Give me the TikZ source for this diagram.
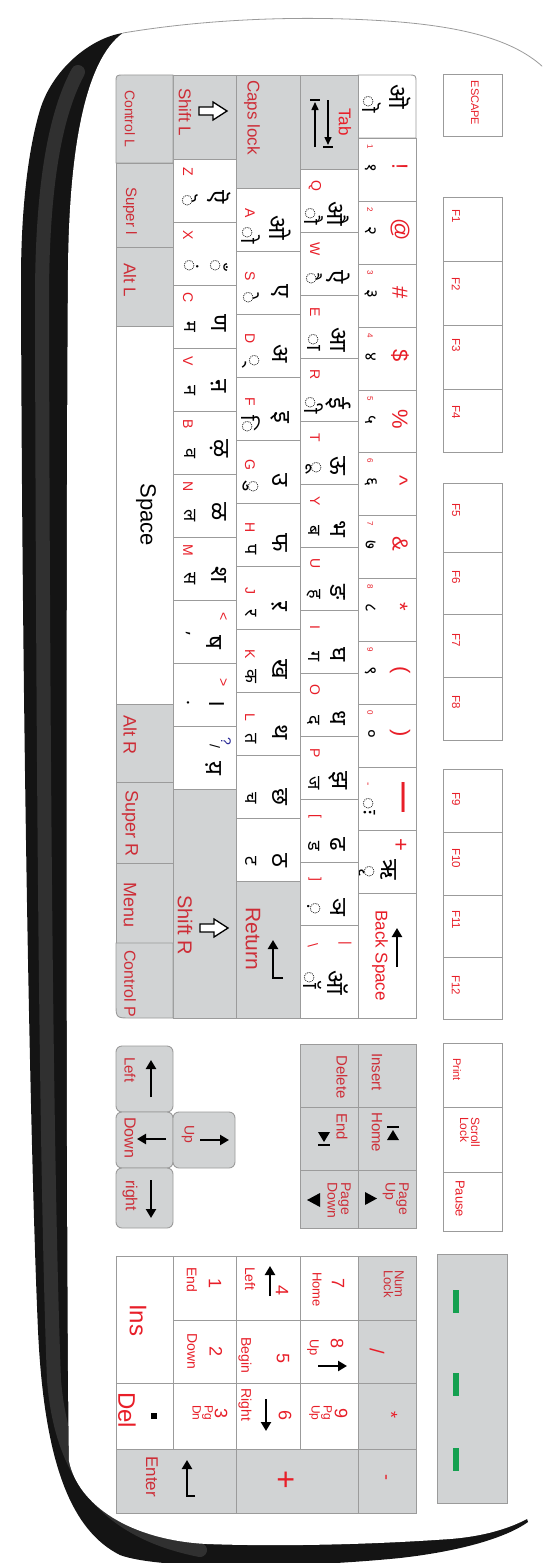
\documentclass[tikz,border=0pt]{standalone}
\usepackage{fontspec}
\setmainfont{Liberation Sans}
\newfontfamily\dev[Script=Devanagari]{Noto Sans}
\usetikzlibrary{arrows.meta}
\definecolor{kred}{RGB}{232,30,40}
\definecolor{mred}{RGB}{205,45,55}
\definecolor{kgray}{RGB}{209,211,212}
\definecolor{kline}{RGB}{155,155,155}
\definecolor{navy}{RGB}{40,40,150}
\definecolor{ledgreen}{RGB}{20,160,80}
\newcommand\fs[1]{\fontsize{#1}{#1}\selectfont}
\newcommand\mk[1]{{\fs{21}◌#1}}
\newcommand\NK[5]{\draw[key] (358,#1) rectangle (416,#1+63);
 \node[sym] (#2a) at (400,#1+29) {#3};
 \node[dig] (#2b) at (370,#1+9) {#4};
 \node[dvd] (#2c) at (371,#1+30) {#5};}
\newcommand\RB[5]{\draw[key] (300,#1) rectangle (358,#1+63);
 \node[lat] (#2l) at (315,#1+17) {#3};
 \node[dvs] (#2s) at (314,#1+47) {#4};
 \node[dvb] (#2b) at (338,#1+45) {#5};}
\newcommand\RC[5]{\draw[key] (236,#1) rectangle (300,#1+63);
 \node[lat] (#2l) at (250,#1+25) {#3};
 \node[dvs] (#2s) at (251,#1+47) {#4};
 \node[dvb] (#2b) at (280,#1+40) {#5};}
\newcommand\RCn[4]{\draw[key] (236,#1) rectangle (300,#1+63);
 \node[dvs] (#2s) at (251,#1+43) {#3};
 \node[dvb] (#2b) at (280,#1+42) {#4};}
\newcommand\RD[5]{\draw[key] (173,#1) rectangle (236,#1+63);
 \node[lat] (#2l) at (188,#1+13) {#3};
 \node[dvs] (#2s) at (190,#1+42) {#4};
 \node[dvb] (#2b) at (219,#1+38) {#5};}
\newcommand\hollowarrow[2]{\draw[line width=1.3pt, fill=white, line join=miter] (#1,#2-4) -- (#1+14,#2-4) -- (#1+14,#2-9) -- (#1+28,#2) -- (#1+14,#2+9) -- (#1+14,#2+4) -- (#1,#2+4) -- cycle;}
\begin{document}
\begin{tikzpicture}[x=1pt,y=-1pt,
 key/.style={draw=kline, line width=0.9pt, fill=white},
 gkey/.style={key, fill=kgray},
 tx/.style={inner sep=0pt, rotate=-90},
 sym/.style={tx, text=kred, font=\fs{22}},
 dig/.style={tx, text=kred, font=\fs{8}},
 dvd/.style={tx, font=\dev\fs{17}},
 lat/.style={tx, text=kred, font=\fs{14}},
 dvs/.style={tx, font=\dev\fs{18}},
 dvb/.style={tx, font=\dev\fs{24}},
 mod/.style={tx, text=mred, anchor=west},
 fk/.style={tx, text=kred, anchor=west, font=\fs{11.5}},
 arr/.style={line width=2.2pt, line join=miter, -{Triangle[length=9pt,width=10pt]}},
 thinarr/.style={line width=1.5pt, -{Triangle[length=8pt,width=7pt]}}]
\useasboundingbox (0,0) rectangle (542,1563);
\clip (0,0) rectangle (542,1563);
% ---------- body ----------
\fill[black!92] (123,33) .. controls (90,38) and (52,70) .. (40,110) .. controls (28,150) and (21,210) .. (21,280) .. controls (22,700) and (30,1150) .. (38,1330) .. controls (44,1460) and (70,1530) .. (120,1555) .. controls (160,1570) and (300,1568) .. (400,1558) .. controls (470,1550) and (510,1535) .. (528,1522) -- (300,800) -- cycle;
\draw[black!55, line width=14pt, opacity=0.3, line cap=round] (78,72) .. controls (52,120) and (42,200) .. (42,300) .. controls (43,800) and (47,1200) .. (54,1380) .. controls (62,1480) and (110,1532) .. (200,1550);
\fill[white] (123,33) .. controls (200,20) and (300,14) .. (400,22) .. controls (470,28) and (520,42) .. (548,72) -- (548,1505) .. controls (530,1520) and (500,1535) .. (450,1539) .. controls (350,1546) and (260,1546) .. (207,1544) .. controls (130,1540) and (78,1505) .. (69,1461) .. controls (66,1300) and (66,500) .. (68,270) .. controls (69,150) and (85,60) .. (123,33) -- cycle;
\draw[kline, line width=0.8pt] (123,33) .. controls (200,20) and (300,14) .. (400,22) .. controls (470,28) and (520,42) .. (548,72);
% ---------- function row ----------
\draw[key] (443,74) rectangle (502,136);
\node[tx, text=kred, font=\fs{11}] (esc) at (475,103) {ESCAPE};
\draw[key] (443,197) rectangle (502,261); \node[fk] (f1) at (456,209) {F1};
\draw[key] (443,261) rectangle (502,325); \node[fk] (f2) at (456,277) {F2};
\draw[key] (443,325) rectangle (502,389); \node[fk] (f3) at (456,338) {F3};
\draw[key] (443,389) rectangle (502,452); \node[fk] (f4) at (456,405) {F4};
\draw[key] (443,483) rectangle (502,552); \node[fk] (f5) at (456,503) {F5};
\draw[key] (443,552) rectangle (502,614); \node[fk] (f6) at (456,570) {F6};
\draw[key] (443,614) rectangle (502,677); \node[fk] (f7) at (456,633) {F7};
\draw[key] (443,677) rectangle (502,740); \node[fk] (f8) at (456,695) {F8};
\draw[key] (443,769) rectangle (502,832); \node[fk] (f9) at (456,792) {F9};
\draw[key] (443,832) rectangle (502,895); \node[fk] (f10) at (456,848) {F10};
\draw[key] (443,895) rectangle (502,957); \node[fk] (f11) at (456,910) {F11};
\draw[key] (443,957) rectangle (502,1019); \node[fk] (f12) at (456,975) {F12};
\draw[key] (443,1043) rectangle (502,1107); \node[fk, font=\fs{11}] (prt) at (457,1058) {Print};
\draw[key] (443,1107) rectangle (502,1172);
\node[tx, text=kred, anchor=north west, align=left, font=\fontsize{12}{11}\selectfont] (scr) at (480,1117) {Scroll\\Lock};
\draw[key] (443,1172) rectangle (502,1231); \node[fk, font=\fs{13}] (pau) at (460,1180) {Pause};
% ---------- row 1 ----------
\draw[key] (358,75) -- (408,75) .. controls (416,75) .. (416,83) -- (416,138) -- (358,138) -- cycle;
\node[dvs] (k0s) at (372,104) {\mk{ॊ}};
\node[dvb] (k0b) at (400,97) {ऒ};
\NK{138}{n1}{!}{1}{१}
\NK{201}{n2}{@}{2}{२}
\NK{264}{n3}{\#}{3}{३}
\NK{327}{n4}{\$}{4}{४}
\NK{390}{n5}{\%}{5}{५}
\NK{452}{n6}{\textasciicircum}{6}{६}
\NK{515}{n7}{\&}{7}{७}
\NK{578}{n8}{*}{8}{८}
\NK{641}{n9}{(}{9}{९}
\NK{704}{n0}{)}{0}{०}
\draw[key] (358,767) rectangle (416,830);
\node[tx, text=kred, font=\fs{30}\bfseries] (mia) at (400,797) {—};
\node[tx, text=kred, font=\fs{10}] (mib) at (367,784) {-};
\node[dvs] (mic) at (369,806) {\mk{ः}};
\draw[key] (358,830) rectangle (416,893);
\node[sym] (pla) at (400,845) {+};
\node[dvs] (plb) at (367,872) {\mk{ृ}};
\node[dvb] (plc) at (389,870) {ऋ};
\draw[key] (358,893) rectangle (416,1018);
\node[mod, text=kred, font=\fs{17}] (bsp) at (380,910) {Back Space};
\draw[arr] (397,967) -- (397,928);
% ---------- row 2 ----------
\draw[gkey] (300,75) rectangle (358,169);
\node[tx, text=kred, font=\fs{17}] (tab) at (345,122) {Tab};
\draw[thinarr] (315,147) -- (315,102);
\draw[line width=1.3pt] (310,100) -- (320,100);
\draw[thinarr] (328,100) -- (328,145);
\draw[line width=1.3pt] (323,147) -- (333,147);
\RB{169}{q}{Q}{\mk{ौ}}{औ}
\RB{232}{w}{W}{\mk{ै}}{ऐ}
\RB{295}{e}{E}{\mk{ा}}{आ}
\RB{358}{r}{R}{\mk{ी}}{ई}
\RB{421}{t}{T}{\mk{ू}}{ऊ}
\RB{484}{y}{Y}{ब}{भ}
\RB{547}{u}{U}{ह}{ङ}
\RB{610}{i}{I}{ग}{घ}
\RB{673}{o}{O}{द}{ध}
\RB{736}{p}{P}{ज}{झ}
\RB{799}{lb}{[}{ड}{ढ}
\RB{862}{rb}{]}{\mk{़}}{ञ}
\draw[key] (300,925) rectangle (358,1018);
\node[lat] (bsa) at (345,943) {|};
\node[lat] (bsb) at (313,945) {\textbackslash};
\node[dvs] (bsc) at (313,980) {\mk{ॉ}};
\node[dvb] (bsd) at (338,983) {ऑ};
% ---------- row 3 ----------
\draw[gkey] (236,75) rectangle (300,188);
\node[mod, font=\fs{17}] (caps) at (252,80) {Caps lock};
\RC{188}{a}{A}{\mk{ो}}{ओ}
\RC{251}{s}{S}{\mk{े}}{ए}
\RC{314}{d}{D}{\mk{्}}{अ}
\RC{377}{f}{F}{\mk{ि}}{इ}
\RC{440}{g}{G}{\mk{ु}}{उ}
\RC{503}{h}{H}{प}{फ}
\RC{566}{j}{J}{र}{ऱ}
\RC{629}{k}{K}{क}{ख}
\RC{692}{l}{L}{त}{थ}
\RCn{755}{semi}{च}{छ}
\RCn{818}{quo}{ट}{ठ}
\draw[gkey] (236,881) rectangle (300,1018);
\node[mod, font=\fs{21}] (ret) at (253,907) {Return};
\draw[arr] (283,978) -- (273,978) -- (273,940);
% ---------- row 4 ----------
\draw[gkey] (173,75) rectangle (236,159);
\node[mod, font=\fs{17}] (shl) at (185,88) {Shift L};
\hollowarrow{199}{111}
\RD{159}{z}{Z}{\mk{ॆ}}{ऎ}
\draw[key] (173,222) rectangle (236,285);
\node[lat] (xl) at (188,235) {X};
\node[dvs] (xs) at (191,266) {\mk{ं}};
\node[dvs] (xb) at (219,266) {\mk{ँ}};
\RD{285}{c}{C}{म}{ण}
\RD{348}{v}{V}{न}{ऩ}
\RD{411}{b}{B}{व}{ऴ}
\RD{474}{nn}{N}{ल}{ळ}
\RD{537}{m}{M}{स}{श}
\draw[key] (173,600) rectangle (236,663);
\node[lat] (cma) at (223,617) {<};
\node[dvs] (cmb) at (188,634) {,};
\node[dvb] (cmc) at (214,642) {ष};
\draw[key] (173,663) rectangle (236,726);
\node[lat] (dta) at (223,683) {>};
\node[dvs] (dtb) at (188,703) {.};
\node[dvb] (dtc) at (217,703) {।};
\draw[key] (173,726) rectangle (236,789);
\node[tx, text=navy, font=\fs{14}] (sla) at (226,741) {?};
\node[tx, font=\fs{14}] (slb) at (215,746) {/};
\node[dvb] (slc) at (214,768) {य़};
\draw[gkey] (173,789) rectangle (236,1018);
\node[mod, font=\fs{20}] (shr) at (185,895) {Shift R};
\hollowarrow{200}{928}
% ---------- row 5 ----------
\draw[gkey] (116,163) -- (116,83) .. controls (116,75) .. (124,75) -- (173,75) -- (173,163) -- cycle;
\node[mod, font=\fs{14}] (ctl) at (130,90) {Control L};
\draw[gkey] (116,163) rectangle (173,247);
\node[mod, font=\fs{15}] (sul) at (130,187) {Super l};
\draw[gkey] (116,247) rectangle (173,326);
\node[mod, font=\fs{17}] (all) at (130,263) {Alt L};
\draw[key] (116,326) rectangle (173,704);
\node[tx, font=\fs{22}] (spc) at (146,515) {Space};
\draw[gkey] (116,704) rectangle (173,782);
\node[mod, font=\fs{18}] (alr) at (130,715) {Alt R};
\draw[gkey] (116,782) rectangle (173,863);
\node[mod, font=\fs{18}] (sur) at (130,790) {Super R};
\draw[gkey] (116,863) rectangle (173,943);
\node[mod, font=\fs{18}] (men) at (130,882) {Menu};
\draw[gkey] (116,943) -- (173,943) -- (173,1018) -- (131,1018) .. controls (116,1018) .. (116,1003) -- cycle;
\node[mod, font=\fs{16}] (ctr) at (130,950) {Control P};
% ---------- editing block ----------
\draw[gkey] (358,1044) rectangle (416,1107);
\node[mod, font=\fs{15}] (ins) at (377,1053) {Insert};
\draw[gkey] (358,1107) rectangle (416,1170);
\node[mod, font=\fs{15}] (hom) at (377,1112) {Home};
\fill (387,1140) -- (399,1140) -- (393,1130) -- cycle;
\draw[line width=1.2pt] (387,1127) -- (399,1127);
\draw[gkey] (358,1170) rectangle (416,1228);
\node[tx, text=mred, anchor=north west, align=left, font=\fontsize{14}{12}\selectfont] (pgu) at (409,1182) {Page\\Up};
\fill (365,1192) -- (365,1205) -- (377,1198.5) -- cycle;
\draw[gkey] (300,1044) rectangle (358,1107);
\node[mod, font=\fs{15}] (del) at (342,1055) {Delete};
\draw[gkey] (300,1107) rectangle (358,1170);
\node[mod, font=\fs{15}] (end) at (342,1113) {End};
\fill (318,1132) -- (330,1132) -- (324,1142) -- cycle;
\draw[line width=1.2pt] (318,1145) -- (330,1145);
\draw[gkey] (300,1170) rectangle (358,1228);
\node[tx, text=mred, anchor=north west, align=left, font=\fontsize{14}{12}\selectfont] (pgd) at (351,1182) {Page\\Down};
\fill (320,1193) -- (320,1207) -- (307,1200) -- cycle;
% ---------- arrow keys ----------
\draw[gkey, rounded corners=6pt] (116,1046) rectangle (173,1112);
\node[mod, font=\fs{15}] (lft) at (130,1057) {Left};
\draw[arr] (151,1097) -- (151,1060);
\draw[gkey, rounded corners=6pt] (116,1112) rectangle (173,1168);
\node[mod, font=\fs{16}] (dwn) at (130,1117) {Down};
\draw[arr] (166,1139) -- (137,1139);
\draw[gkey, rounded corners=6pt] (173,1112) rectangle (235,1168);
\node[mod, font=\fs{14}] (upk) at (188,1125) {Up};
\draw[arr] (200,1140) -- (229,1140);
\draw[gkey, rounded corners=6pt] (116,1168) rectangle (173,1228);
\node[mod, font=\fs{16}] (rgt) at (130,1180) {right};
\draw[arr] (151,1180) -- (151,1218);
% ---------- numeric pad ----------
\draw[gkey] (358,1256) rectangle (416,1320);
\node[tx, text=mred, anchor=north west, align=left, font=\fontsize{13}{11}\selectfont] (nl) at (404,1270) {Num\\Lock};
\draw[gkey] (358,1320) rectangle (416,1383);
\node[tx, text=kred, font=\fs{20}] (pdiv) at (377,1351) {/};
\draw[gkey] (358,1383) rectangle (416,1449);
\node[tx, text=kred, font=\fs{18}] (pmul) at (391,1415) {*};
\draw[gkey] (358,1449) rectangle (416,1513);
\node[tx, text=kred, font=\fs{18}] (pmin) at (384,1477) {-};
\draw[key] (300,1256) rectangle (358,1320);
\node[tx, text=kred, font=\fs{18}] (p7) at (338,1283) {7};
\node[mod, text=kred, font=\fs{13}] (p7t) at (317,1272) {Home};
\draw[key] (300,1320) rectangle (358,1383);
\node[tx, text=kred, font=\fs{18}] (p8) at (337,1343) {8};
\node[mod, text=kred, font=\fs{13}] (p8t) at (313,1339) {Up};
\draw[arr] (318,1366) -- (347,1366);
\draw[key] (300,1383) rectangle (358,1449);
\node[tx, text=kred, font=\fs{18}] (p9) at (341,1413) {9};
\node[tx, text=kred, anchor=north west, align=left, font=\fontsize{12}{12}\selectfont] (p9t) at (332,1405) {Pg\\Up};
\draw[gkey] (236,1449) rectangle (358,1513);
\node[tx, text=kred, font=\fs{32}] (padd) at (285,1480) {+};
\draw[key] (236,1256) rectangle (300,1320);
\node[tx, text=kred, font=\fs{18}] (p4) at (282,1290) {4};
\node[mod, text=kred, font=\fs{14}] (p4t) at (250,1267) {Left};
\draw[arr] (270,1296) -- (270,1266);
\draw[key] (236,1320) rectangle (300,1383);
\node[tx, text=kred, font=\fs{18}] (p5) at (283,1358) {5};
\node[mod, text=kred, font=\fs{14}] (p5t) at (245,1337) {Begin};
\draw[key] (236,1383) rectangle (300,1449);
\node[tx, text=kred, font=\fs{18}] (p6) at (285,1415) {6};
\node[mod, text=kred, font=\fs{14}] (p6t) at (245,1388) {Right};
\draw[arr] (266,1399) -- (266,1431);
\draw[key] (173,1256) rectangle (236,1320);
\node[tx, text=kred, font=\fs{18}] (p1) at (215,1283) {1};
\node[mod, text=kred, font=\fs{14}] (p1t) at (192,1267) {End};
\draw[key] (173,1320) rectangle (236,1383);
\node[tx, text=kred, font=\fs{18}] (p2) at (216,1351) {2};
\node[mod, text=kred, font=\fs{14}] (p2t) at (192,1333) {Down};
\draw[key] (173,1383) rectangle (236,1449);
\node[tx, text=kred, font=\fs{18}] (p3) at (221,1413) {3};
\node[tx, text=kred, anchor=north west, align=left, font=\fontsize{12}{12}\selectfont] (p3t) at (213,1405) {Pg\\Dn};
\draw[key] (116,1256) rectangle (173,1383);
\node[tx, text=kred, font=\fs{24}] (pins) at (138,1320) {Ins};
\draw[key] (116,1383) rectangle (173,1449);
\node[mod, text=kred, font=\fs{24}] (pdel) at (127,1392) {Del};
\fill (151,1413) rectangle (157,1419);
\draw[gkey] (116,1449) rectangle (236,1513);
\node[mod, font=\fs{17}] (pent) at (152,1456) {Enter};
\draw[arr] (195,1496) -- (187,1496) -- (187,1460);
% ---------- LED panel ----------
\draw[gkey] (437,1254) rectangle (507,1503);
\fill[ledgreen] (453,1290) rectangle (459,1313);
\fill[ledgreen] (453,1373) rectangle (459,1396);
\fill[ledgreen] (453,1448) rectangle (459,1471);
\end{tikzpicture}
\end{document}
